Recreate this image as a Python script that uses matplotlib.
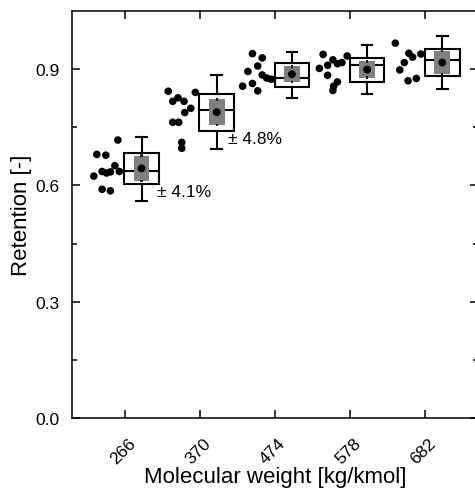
import matplotlib
matplotlib.use("Agg")
import matplotlib.pyplot as plt
import matplotlib.transforms as mtransforms
import numpy as np

plt.rcParams['font.family'] = ['Liberation Sans', 'DejaVu Sans']

categories = ['266', '370', '474', '578', '682']

# raw points: x offsets (relative to category tick) and retention values
pts_dx = [
    [-0.09, -0.37, -0.25, -0.13, -0.24, -0.30, -0.41, -0.19, -0.07, -0.30, -0.19],
    [-0.42, -0.36, -0.29, -0.21, -0.06, -0.12, -0.20, -0.36, -0.28, -0.24, -0.24],
    [-0.30, -0.17, -0.23, -0.36, -0.17, -0.11, -0.05, -0.43, -0.30, -0.23],
    [-0.36, -0.23, -0.04, -0.30, -0.17, -0.11, -0.41, -0.30, -0.17, -0.22, -0.23],
    [-0.40, -0.22, -0.06, -0.17, -0.28, -0.34, -0.23, -0.12],
]
pts_y = [
    [0.717, 0.680, 0.678, 0.651, 0.632, 0.636, 0.624, 0.635, 0.636, 0.590, 0.586],
    [0.843, 0.817, 0.826, 0.817, 0.840, 0.799, 0.788, 0.763, 0.763, 0.711, 0.696],
    [0.940, 0.929, 0.908, 0.894, 0.885, 0.877, 0.874, 0.856, 0.863, 0.844],
    [0.938, 0.924, 0.934, 0.910, 0.914, 0.917, 0.902, 0.884, 0.867, 0.856, 0.845],
    [0.967, 0.941, 0.939, 0.931, 0.917, 0.898, 0.870, 0.876],
]

# box statistics
q1 = [0.603, 0.741, 0.854, 0.868, 0.883]
med = [0.636, 0.794, 0.877, 0.910, 0.924]
q3 = [0.683, 0.835, 0.915, 0.929, 0.952]
whislo = [0.560, 0.694, 0.826, 0.837, 0.848]
whishi = [0.725, 0.884, 0.945, 0.961, 0.986]
means = [0.644, 0.789, 0.887, 0.899, 0.917]
sds = [0.033, 0.033, 0.020, 0.021, 0.030]

annotations = ['± 4.1%', '± 4.8%']
ann_x = [1.43, 2.37]
ann_y = [0.585, 0.722]

W, H = 475, 489
fig = plt.figure(figsize=(W / 100, H / 100), dpi=100)
ax = fig.add_axes([72 / W, 1 - 419 / H, (478 - 72) / W, (419 - 12) / H])

pos = np.arange(1, len(categories) + 1)
box_off = 0.225

for i in range(len(categories)):
    ax.scatter(pos[i] + np.array(pts_dx[i]), pts_y[i], s=30, color='black',
               edgecolors='none', zorder=3)

stats = []
for i in range(len(categories)):
    stats.append(dict(med=med[i], q1=q1[i], q3=q3[i], whislo=whislo[i],
                      whishi=whishi[i], fliers=[], label=categories[i]))

lw = 1.5
ax.bxp(stats, positions=pos + box_off, widths=0.46, showfliers=False,
       patch_artist=True, manage_ticks=False,
       boxprops=dict(facecolor='white', edgecolor='black', linewidth=lw),
       medianprops=dict(color='black', linewidth=lw),
       whiskerprops=dict(color='black', linewidth=lw),
       capprops=dict(color='black', linewidth=lw), capwidths=0.14)

ax.bar(pos + box_off, 2 * np.array(sds), bottom=np.array(means) - np.array(sds),
       width=0.21, color='#808080', zorder=4)
ax.scatter(pos + box_off, means, s=32, color='black', edgecolors='none', zorder=5)
ax.scatter(pos + box_off, np.array(means) + np.array(sds), s=3, marker='s',
           color='#202020', edgecolors='none', zorder=5)
ax.scatter(pos + box_off, np.array(means) - np.array(sds), s=3, marker='s',
           color='#202020', edgecolors='none', zorder=5)

for t, x, y in zip(annotations, ann_x, ann_y):
    ax.text(x, y, t, fontsize=12.5, va='center', ha='left')

ax.set_xlim(0.3, 5.7)
ax.set_ylim(0, 1.05)
ax.set_xticks(pos)
ax.set_xticklabels(categories, rotation=45, ha='right', rotation_mode='anchor')
ax.set_yticks([0.0, 0.3, 0.6, 0.9])
ax.set_yticklabels(['0.0', '0.3', '0.6', '0.9'])
ax.set_yticks([0.15, 0.45, 0.75], minor=True)
ax.tick_params(axis='both', which='major', direction='in', length=5.5, width=1.1,
               labelsize=12.5, top=True, right=True)
ax.tick_params(axis='y', which='minor', direction='in', length=3.5, width=1.1,
               right=True, left=True)
ax.tick_params(axis='y', which='major', pad=9)
ax.tick_params(axis='x', which='major', pad=12.5)
off = mtransforms.ScaledTranslation(3 / 100, 0, fig.dpi_scale_trans)
for lab in ax.get_xticklabels():
    lab.set_transform(lab.get_transform() + off)
for s in ax.spines.values():
    s.set_linewidth(1.1)

ax.set_xlabel('Molecular weight [kg/kmol]', fontsize=16, labelpad=0)
ax.set_ylabel('Retention [-]', fontsize=16, labelpad=2)

fig.savefig('out.png', dpi=100)
